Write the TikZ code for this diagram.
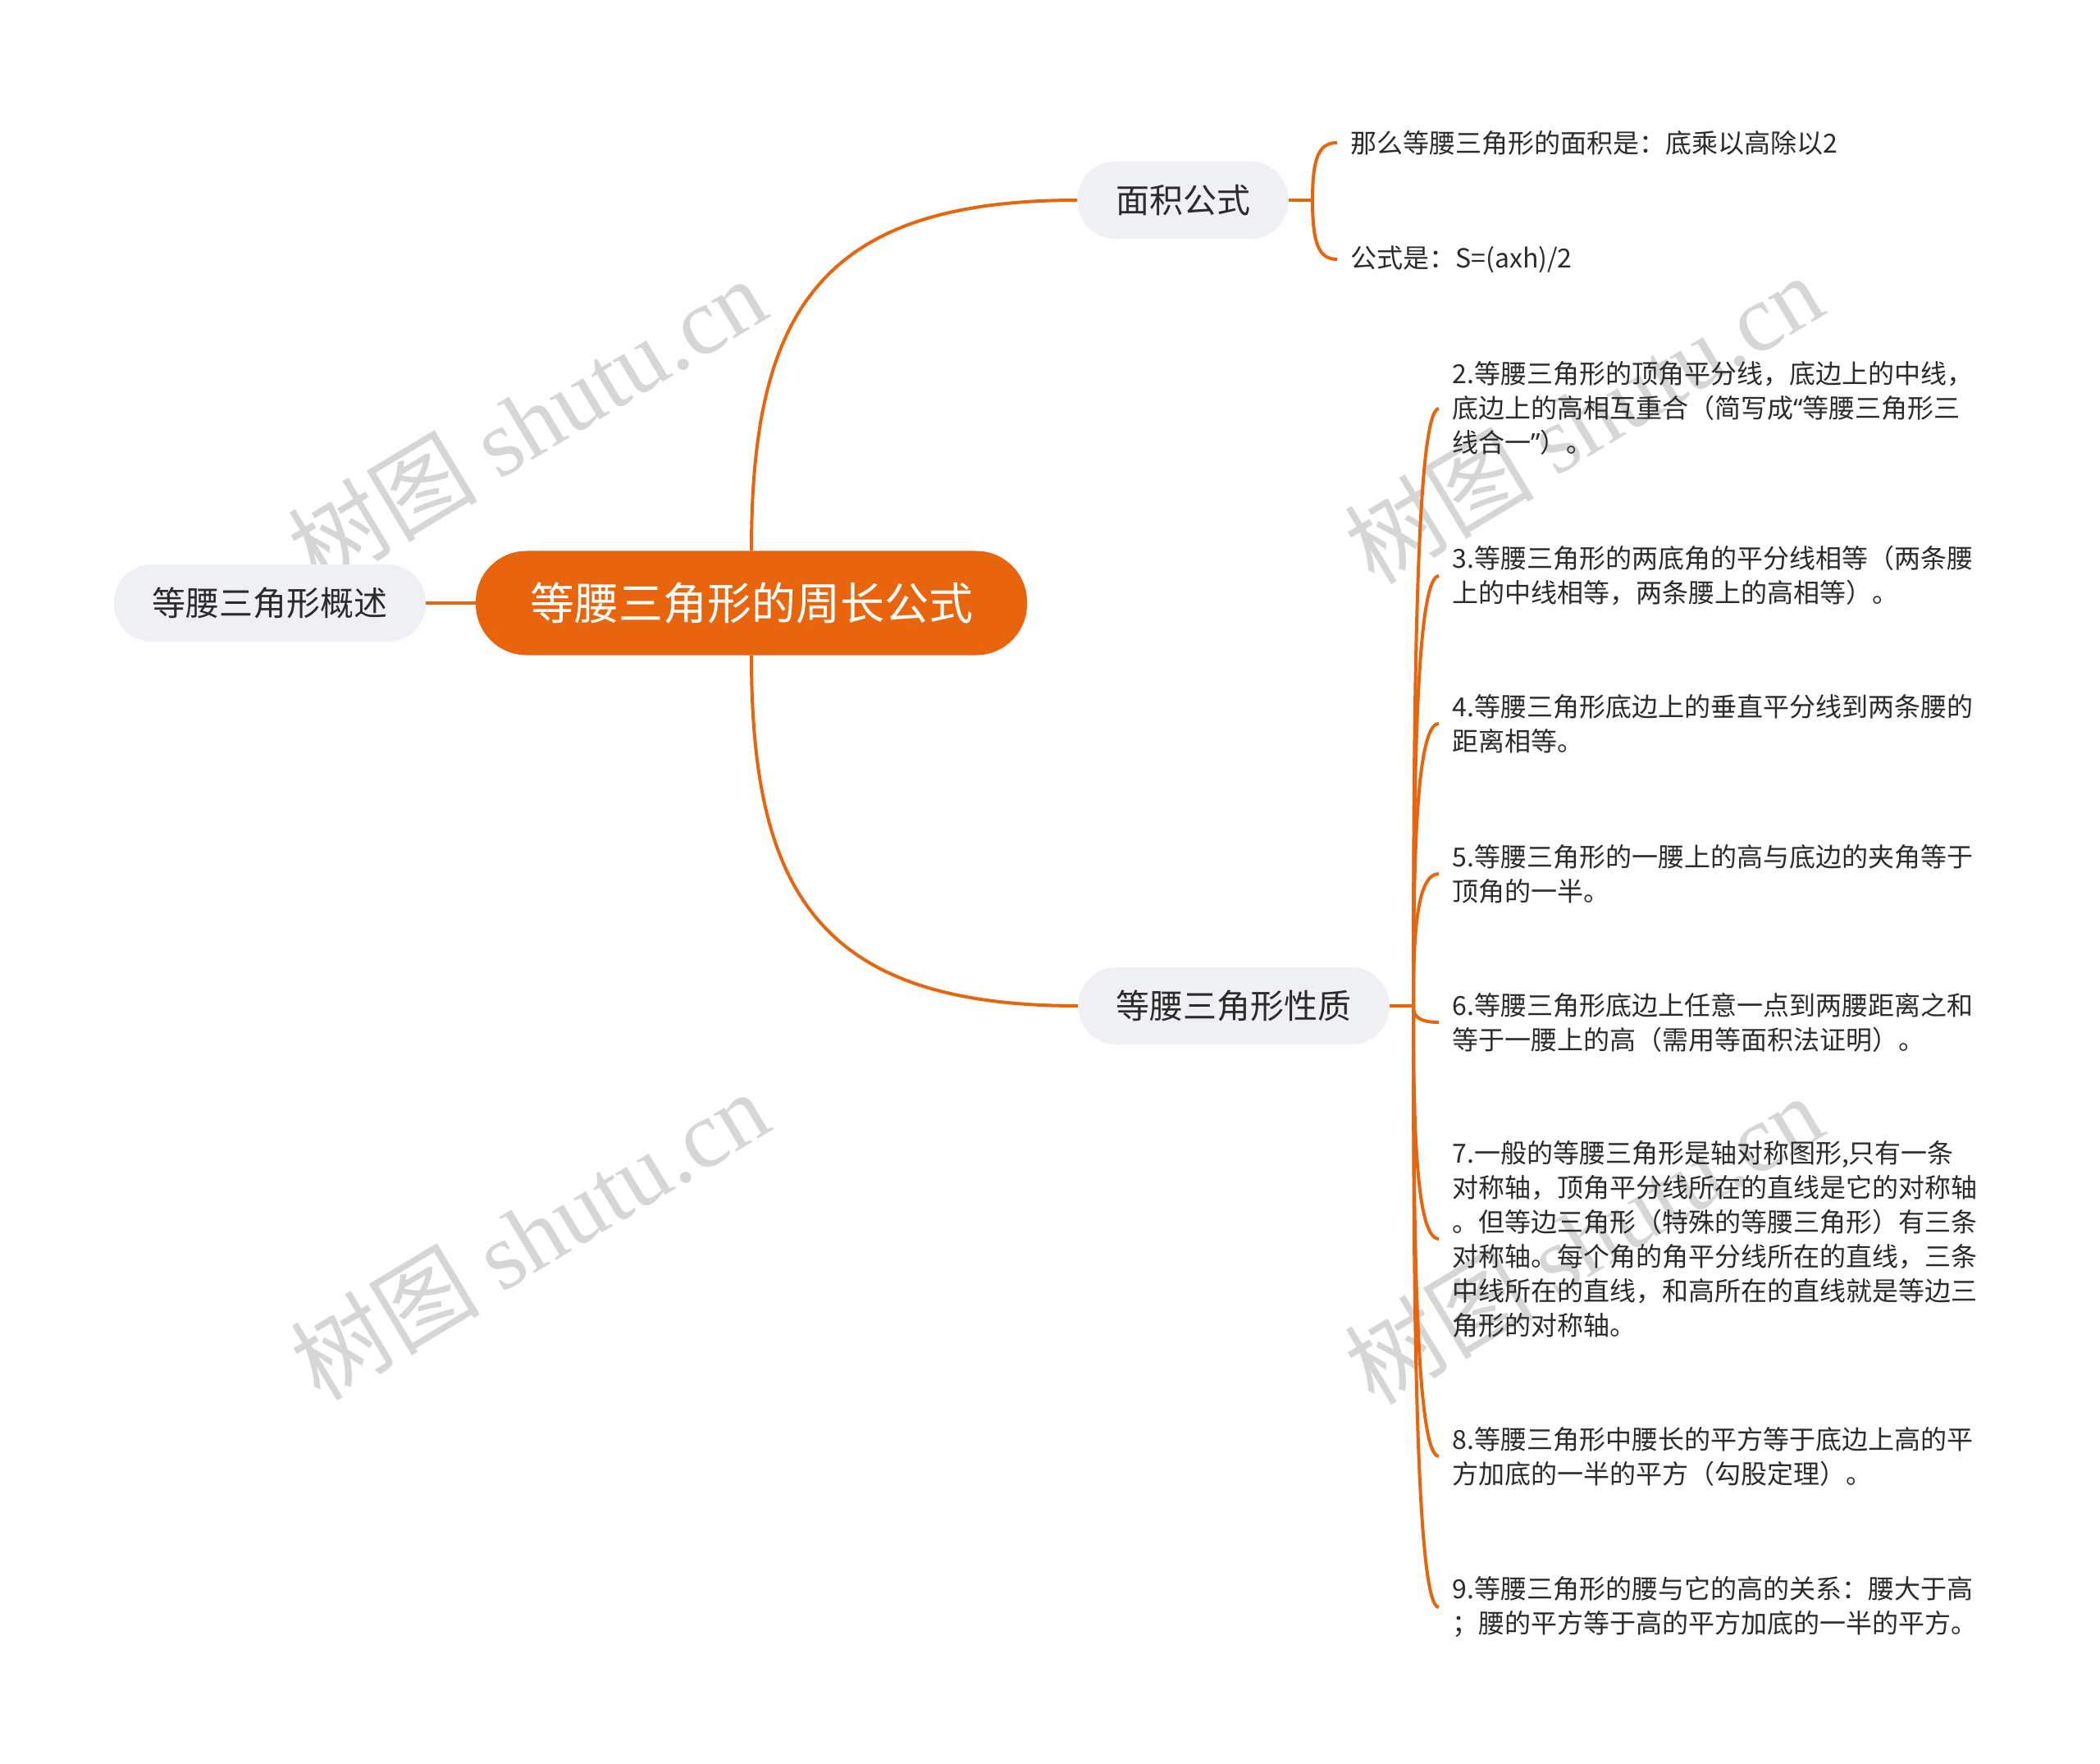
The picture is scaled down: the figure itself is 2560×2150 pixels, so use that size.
\documentclass[tikz,border=0pt]{standalone}
\usepackage{fontspec}
\setmainfont{Noto Sans CJK SC}
\newfontfamily\wmserif{Liberation Serif}
\newfontfamily\latq{Noto Sans}
\usetikzlibrary{calc}
\definecolor{orng}{HTML}{E8650E}
\definecolor{pill}{HTML}{EEF0F3}
\definecolor{txt}{HTML}{2B2B2B}
\definecolor{wmc}{HTML}{D6D6D6}
\begin{document}
\begin{tikzpicture}[x=0.5pt,y=-0.5pt,
  link/.style={draw=orng, line width=2pt},
  rootnode/.style={fill=orng, text=white, rounded corners=31pt, minimum width=336pt, minimum height=63.5pt, inner sep=0pt, font=\fontsize{27}{32}\selectfont},
  topic/.style={fill=pill, text=txt, rounded corners=23pt, minimum height=47pt, inner sep=0pt, font=\fontsize{20.5}{24}\selectfont},
  leaf/.style={anchor=west, align=left, text=txt, inner xsep=8pt, inner ysep=0pt, font=\fontsize{16}{21}\selectfont},
  wm/.style={text=wmc, font=\fontsize{58}{62}\selectfont, rotate=31, inner sep=0pt}
]
\useasboundingbox (0,0) rectangle (2560,2150);
\fill[white] (0,0) rectangle (2560,2150);

% watermarks
\node[wm] (w1) at (642,514) {树图 {\wmserif shutu.cn}};
\node[wm] (w2) at (1930,510) {树图 {\wmserif shutu.cn}};
\node[wm] (w3) at (645,1505) {树图 {\wmserif shutu.cn}};
\node[wm] (w4) at (1930,1510) {树图 {\wmserif shutu.cn}};

% main nodes
\node[rootnode] (root) at (916,735) {等腰三角形的周长公式};
\node[topic, minimum width=190pt] (ovw) at (329,735) {等腰三角形概述};
\node[topic, minimum width=128.5pt] (area) at (1442,244) {面积公式};
\node[topic, minimum width=189.5pt] (prop) at (1504,1226) {等腰三角形性质};

% area leaves
\node[leaf] (a1) at (1630,174) {那么等腰三角形的面积是：底乘以高除以2};
\node[leaf] (a2) at (1630,316) {公式是：S=(axh)/2};

% property leaves
\node[leaf] (p2) at (1754,498) {2.等腰三角形的顶角平分线，底边上的中线，\\底边上的高相互重合（简写成{\latq “}等腰三角形三\\线合一{\latq ”}）。};
\node[leaf] (p3) at (1754,702) {3.等腰三角形的两底角的平分线相等（两条腰\\上的中线相等，两条腰上的高相等）。};
\node[leaf] (p4) at (1754,882) {4.等腰三角形底边上的垂直平分线到两条腰的\\距离相等。};
\node[leaf] (p5) at (1754,1065) {5.等腰三角形的一腰上的高与底边的夹角等于\\顶角的一半。};
\node[leaf] (p6) at (1754,1246) {6.等腰三角形底边上任意一点到两腰距离之和\\等于一腰上的高（需用等面积法证明）。};
\node[leaf] (p7) at (1754,1510) {7.一般的等腰三角形是轴对称图形,只有一条\\对称轴，顶角平分线所在的直线是它的对称轴\\。但等边三角形（特殊的等腰三角形）有三条\\对称轴。每个角的角平分线所在的直线，三条\\中线所在的直线，和高所在的直线就是等边三\\角形的对称轴。};
\node[leaf] (p8) at (1754,1775) {8.等腰三角形中腰长的平方等于底边上高的平\\方加底的一半的平方（勾股定理）。};
\node[leaf] (p9) at (1754,1959) {9.等腰三角形的腰与它的高的关系：腰大于高\\；腰的平方等于高的平方加底的一半的平方。};

% connectors from root
\draw[link] (ovw.east) -- (root.west);
\draw[link] (root.north) .. controls ($(root.north)!0.68!(root.north|-area.west)$) and ($(area.west)+(-314,0)$) .. (area.west);
\draw[link] (root.south) .. controls ($(root.south)!0.68!(root.south|-prop.west)$) and ($(prop.west)+(-314,0)$) .. (prop.west);

% area bracket
\coordinate (ja) at (1600,244);
\draw[link] (area.east) -- (ja);
\foreach \lf in {a1,a2}{
  \draw[link] (ja) .. controls ($(ja)!0.75!(ja|-\lf.west)$) and ($(\lf.west)+(-22,0)$) .. (\lf.west);
}

% property bracket
\coordinate (jp) at (1723,1226);
\draw[link] (prop.east) -- (jp);
\foreach \lf in {p2,p3,p4,p5,p6,p7,p8,p9}{
  \draw[link] (jp) .. controls ($(jp)!0.5!(jp|-\lf.west)$) and ($(\lf.west)+(-28,0)$) .. (\lf.west);
}
\end{tikzpicture}
\end{document}
